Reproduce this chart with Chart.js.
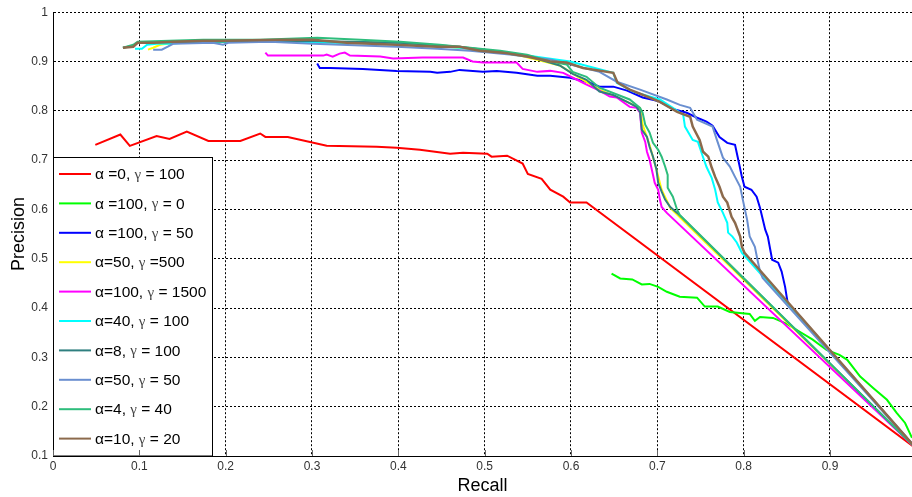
<!DOCTYPE html>
<html>
<head>
<meta charset="utf-8">
<script src="https://cdn.jsdelivr.net/npm/chart.js@4/dist/chart.umd.min.js"></script>
<style>
  html, body { margin: 0; padding: 0; background: #fff; }
  #wrap { width: 912px; height: 497px; }
</style>
</head>
<body>
<div id="wrap"><canvas id="myChart" width="912" height="497"></canvas></div>
<script>
// Valores (recall no eixo x, precision no eixo y)
const seriesLabels = [
  "α =0, γ = 100", "α =100, γ = 0", "α =100, γ = 50", "α=50, γ =500", "α=100, γ = 1500",
  "α=40, γ = 100", "α=8, γ = 100", "α=50, γ = 50", "α=4, γ = 40", "α=10, γ = 20"
];
const seriesColors = ["#ff0000", "#00ff00", "#0000ff", "#ffff00", "#ff00ff",
  "#00ffff", "#2f7f7f", "#6a8fd0", "#2ebd7c", "#8c6a4c"];

const xTicks = [0, 0.1, 0.2, 0.3, 0.4, 0.5, 0.6, 0.7, 0.8, 0.9];
const yTicks = [0.1, 0.2, 0.3, 0.4, 0.5, 0.6, 0.7, 0.8, 0.9, 1];

// α=0, γ=100
const recallA0 = [0.049,0.078,0.089,0.120,0.135,0.155,0.180,0.217,0.240,0.246,0.272,0.317,0.375,0.398,0.425,0.460,0.475,0.503,0.508,0.526,0.544,0.550,0.566,0.576,0.591,0.599,0.618,1.0];
const precA0   = [0.731,0.752,0.729,0.749,0.743,0.758,0.739,0.739,0.754,0.747,0.747,0.729,0.727,0.725,0.721,0.713,0.715,0.713,0.707,0.709,0.693,0.672,0.662,0.640,0.626,0.614,0.614,0.115];

// α=100, γ=0
const recallA100G0 = [0.647,0.657,0.671,0.682,0.691,0.701,0.711,0.726,0.746,0.755,0.770,0.784,0.807,0.813,0.819,0.834,0.850,0.865,0.880,0.896,0.911,0.920,0.935,0.950,0.966,0.977,0.987,0.995];
const precA100G0   = [0.470,0.460,0.458,0.448,0.449,0.443,0.433,0.423,0.421,0.403,0.403,0.392,0.388,0.374,0.382,0.380,0.368,0.352,0.336,0.315,0.305,0.295,0.261,0.238,0.214,0.188,0.167,0.137];

// α=100, γ=50
const recallA100G50 = [0.306,0.309,0.321,0.359,0.398,0.437,0.445,0.460,0.471,0.498,0.514,0.537,0.561,0.576,0.599,0.622,0.633,0.649,0.665,0.683,0.701,0.718,0.734,0.746,0.757,0.764,0.772,0.781,0.790,0.793,0.798,0.801,0.809,0.815,0.819,0.825,0.828,0.833,0.840,0.844,0.848,0.850,0.851,1.0];
const precA100G50   = [0.896,0.887,0.887,0.885,0.881,0.879,0.877,0.879,0.883,0.879,0.881,0.877,0.871,0.871,0.867,0.857,0.849,0.849,0.841,0.827,0.820,0.804,0.796,0.786,0.778,0.770,0.747,0.735,0.731,0.707,0.666,0.646,0.640,0.626,0.603,0.559,0.545,0.498,0.492,0.474,0.443,0.421,0.411,0.115];

// α=50, γ=500
const recallA50G500 = [0.110,0.116,0.124,0.139,0.205,0.286,0.379,0.445,0.494,0.541,0.587,0.610,0.633,0.665,0.680,0.683,0.691,0.699,0.705,0.715,1.0];
const precA50G500   = [0.924,0.928,0.934,0.938,0.940,0.940,0.938,0.932,0.924,0.912,0.892,0.867,0.843,0.818,0.806,0.772,0.731,0.681,0.640,0.603,0.115];

// α=100, γ=1500
const recallA100G1500 = [0.246,0.249,0.283,0.313,0.317,0.324,0.332,0.338,0.344,0.379,0.394,0.428,0.475,0.486,0.498,0.537,0.544,0.561,0.576,0.591,0.607,0.618,0.633,0.645,0.653,0.668,0.676,0.680,0.682,0.686,0.688,0.691,0.695,0.697,0.701,0.703,0.705,0.711,1.0];
const precA100G1500   = [0.918,0.912,0.912,0.912,0.914,0.910,0.916,0.918,0.912,0.910,0.906,0.908,0.908,0.900,0.898,0.898,0.885,0.879,0.881,0.877,0.863,0.853,0.841,0.829,0.827,0.808,0.806,0.796,0.756,0.737,0.717,0.701,0.670,0.654,0.640,0.620,0.605,0.593,0.115];

// α=40, γ=100
const recallA40G100 = [0.095,0.103,0.109,0.120,0.135,0.170,0.263,0.321,0.402,0.471,0.541,0.599,0.649,0.653,0.672,0.703,0.718,0.730,0.732,0.741,0.747,0.752,0.757,0.763,0.767,0.770,0.776,0.781,0.782,0.787,0.792,0.798,1.0];
const precA40G100   = [0.926,0.926,0.934,0.936,0.936,0.940,0.940,0.938,0.936,0.928,0.914,0.900,0.877,0.857,0.839,0.823,0.806,0.792,0.768,0.741,0.737,0.711,0.686,0.664,0.640,0.614,0.593,0.573,0.553,0.545,0.533,0.512,0.115];

// α=8, γ=100
const recallA8G100 = [0.081,0.093,0.098,0.170,0.286,0.402,0.471,0.518,0.552,0.587,0.602,0.618,0.633,0.649,0.665,0.676,0.680,0.682,0.688,0.691,0.695,0.699,0.701,0.705,0.709,0.715,0.723,1.0];
const precA8G100   = [0.928,0.932,0.938,0.940,0.942,0.938,0.930,0.920,0.910,0.892,0.875,0.863,0.839,0.832,0.818,0.808,0.798,0.762,0.747,0.727,0.707,0.681,0.654,0.636,0.620,0.605,0.593,0.115];

// α=50, γ=50
const recallA50G50 = [0.116,0.126,0.133,0.139,0.185,0.197,0.203,0.251,0.301,0.398,0.445,0.483,0.529,0.576,0.633,0.653,0.680,0.711,0.726,0.738,0.746,0.764,0.769,0.776,0.784,0.790,0.796,0.799,0.804,0.807,0.813,0.816,0.819,0.822,1.0];
const precA50G50   = [0.924,0.924,0.930,0.936,0.938,0.934,0.938,0.940,0.936,0.930,0.926,0.922,0.914,0.904,0.879,0.859,0.843,0.823,0.812,0.806,0.782,0.768,0.741,0.705,0.687,0.666,0.646,0.620,0.579,0.545,0.524,0.498,0.474,0.461,0.115];

// α=4, γ=40
const recallA4G40 = [0.081,0.093,0.098,0.135,0.174,0.240,0.306,0.356,0.402,0.448,0.483,0.518,0.549,0.576,0.595,0.602,0.618,0.633,0.668,0.680,0.683,0.686,0.691,0.695,0.701,0.705,0.709,0.712,0.712,0.718,0.723,0.726,1.0];
const precA4G40   = [0.928,0.934,0.940,0.942,0.944,0.944,0.948,0.944,0.940,0.934,0.928,0.922,0.914,0.900,0.894,0.879,0.869,0.847,0.823,0.806,0.796,0.772,0.756,0.735,0.721,0.707,0.687,0.670,0.644,0.626,0.599,0.589,0.115];

// α=10, γ=20
const recallA10G20 = [0.081,0.093,0.098,0.104,0.116,0.139,0.174,0.197,0.263,0.301,0.340,0.398,0.445,0.471,0.494,0.521,0.549,0.576,0.595,0.614,0.649,0.654,0.668,0.688,0.703,0.723,0.738,0.741,0.749,0.753,0.759,0.763,0.767,0.772,0.776,0.781,0.786,0.790,0.796,0.798,0.801,1.0];
const precA10G20   = [0.928,0.930,0.938,0.938,0.938,0.940,0.942,0.942,0.944,0.944,0.938,0.934,0.930,0.930,0.922,0.918,0.910,0.900,0.898,0.887,0.877,0.857,0.843,0.829,0.818,0.798,0.788,0.768,0.741,0.717,0.707,0.685,0.666,0.646,0.626,0.614,0.585,0.573,0.545,0.524,0.512,0.115];

const seriesRecall = [recallA0, recallA100G0, recallA100G50, recallA50G500, recallA100G1500,
  recallA40G100, recallA8G100, recallA50G50, recallA4G40, recallA10G20];
const seriesPrecision = [precA0, precA100G0, precA100G50, precA50G500, precA100G1500,
  precA40G100, precA8G100, precA50G50, precA4G40, precA10G20];

const tickFont = { family: "'Liberation Sans', Arial, sans-serif", size: 12 };

// Marcas curtas para dentro dos eixos (como no MATLAB)
const innerTicks = {
  id: 'innerTicks',
  afterDraw(chart) {
    const ctx = chart.ctx;
    const area = chart.chartArea;
    ctx.save();
    ctx.strokeStyle = '#666';
    ctx.lineWidth = 1;
    ctx.beginPath();
    xTicks.forEach(v => {
      const px = Math.round(chart.scales.x.getPixelForValue(v)) + 0.5;
      ctx.moveTo(px, area.bottom);
      ctx.lineTo(px, area.bottom - 6);
    });
    ctx.stroke();
    ctx.restore();
  }
};

// Legenda desenhada dentro do gráfico, canto inferior esquerdo (estilo MATLAB)
const legendBox = {
  id: 'legendBox',
  afterDatasetsDraw(chart) {
    const ctx = chart.ctx;
    const area = chart.chartArea;
    const x0 = area.left, w = 159, h = 299;
    const y0 = area.bottom - h;
    ctx.save();
    ctx.fillStyle = '#fff';
    ctx.fillRect(x0, y0, w, h);
    ctx.strokeStyle = '#000';
    ctx.lineWidth = 1;
    ctx.strokeRect(x0 + 0.5, y0 + 0.5, w, h - 0.5);
    ctx.textBaseline = 'middle';
    chart.data.datasets.forEach((ds, i) => {
      const y = y0 + 17 + i * 29.4;
      ctx.strokeStyle = ds.borderColor;
      ctx.lineWidth = 2;
      ctx.beginPath();
      ctx.moveTo(x0 + 6, y);
      ctx.lineTo(x0 + 38, y);
      ctx.stroke();
      let tx = x0 + 42;
      for (const ch of ds.label) {
        if (ch === 'γ') {
          ctx.font = "15px 'Liberation Serif', serif";
          ctx.fillStyle = '#444';
        } else {
          ctx.font = "15.5px 'Liberation Sans', Arial, sans-serif";
          ctx.fillStyle = '#000';
        }
        ctx.fillText(ch, tx, y + 1);
        tx += ctx.measureText(ch).width;
      }
    });
    ctx.restore();
  }
};

const datasets = seriesLabels.map((label, i) => ({
  label: label,
  data: seriesRecall[i].map((r, j) => ({ x: r, y: seriesPrecision[i][j] })),
  borderColor: seriesColors[i],
  borderWidth: i === 9 ? 2.5 : 2,
  pointRadius: 0,
  tension: 0,
  fill: false,
  order: seriesLabels.length - i
}));

const myChart = new Chart(document.getElementById('myChart'), {
  type: 'line',
  data: { datasets: datasets },
  options: {
    responsive: false,
    animation: false,
    layout: { padding: { top: 12, right: 0, left: 0, bottom: 0 } },
    plugins: { legend: { display: false }, tooltip: { enabled: false } },
    scales: {
      x: {
        type: 'linear',
        min: 0,
        max: 0.995,
        afterBuildTicks: s => { s.ticks = xTicks.map(v => ({ value: v })); },
        afterFit: s => { s.height = 41; },
        ticks: {
          color: '#333',
          font: tickFont,
          padding: 3,
          maxRotation: 0,
          callback: v => String(Math.round(v * 10) / 10)
        },
        grid: { color: '#000', lineWidth: 1, drawTicks: false },
        border: { display: true, color: '#000', width: 1, dash: [2, 2] },
        title: {
          display: true, text: 'Recall', color: '#000',
          font: { family: "'Liberation Sans', Arial, sans-serif", size: 18 },
          padding: 0
        }
      },
      y: {
        type: 'linear',
        min: 0.1,
        max: 1,
        afterBuildTicks: s => { s.ticks = yTicks.map(v => ({ value: v })); },
        afterFit: s => { s.width = 53; },
        ticks: {
          color: '#333',
          font: tickFont,
          padding: 5,
          callback: v => String(Math.round(v * 10) / 10)
        },
        grid: { color: '#000', lineWidth: 1, drawTicks: false },
        border: { display: true, color: '#000', width: 1, dash: [2, 2] },
        title: {
          display: true, text: 'Precision', color: '#000',
          font: { family: "'Liberation Sans', Arial, sans-serif", size: 18 },
          padding: { top: 8, bottom: 0 }
        }
      }
    }
  },
  plugins: [legendBox, innerTicks]
});
</script>
</body>
</html>
